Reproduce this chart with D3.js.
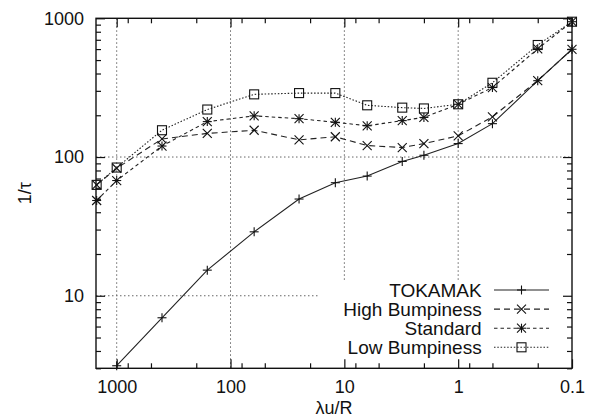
<!DOCTYPE html>
<html>
<head>
<meta charset="utf-8">
<script src="https://cdn.jsdelivr.net/npm/d3@7"></script>
<style>
  body { margin: 0; background: #fff; }
  svg { display: block; font-family: "Liberation Sans", Arial, sans-serif; }
  .axis path { stroke: #111; stroke-width: 1.3; }
  .axis line { stroke: #111; stroke-width: 1.2; }
  .axis text { font-size: 18px; fill: #111; }
</style>
</head>
<body>
<svg width="591" height="417"></svg>
<script>
// Data (x is λu/R, shared by every series)
const xValues = [1500, 1000, 400, 160, 62, 25, 12, 6.3, 3.1, 2, 1, 0.5, 0.2, 0.1];
const tokamak = [null, 3.13, 6.94, 15.3, 28.9, 49.8, 65.3, 72.9, 93, 103, 125, 174, 355, 598];
const highBumpiness = [63, 83, 135, 148, 156, 133, 140, 121, 117, 125, 142, 195, 355, 598];
const standard = [48.6, 67.7, 120, 180, 198, 189, 178, 168, 183, 193, 240, 317, 603, 945];
const lowBumpiness = [63, 84, 156, 220, 283, 289, 289, 236, 227, 224, 240, 343, 642, 945];

const seriesNames = ["TOKAMAK", "High Bumpiness", "Standard", "Low Bumpiness"];
const xMajorTicks = [1000, 100, 10, 1, 0.1];
const xMinorTicks = [800, 500, 200, 80, 50, 20, 8, 5, 2, 0.8, 0.5, 0.2];
const yMajorTicks = [1000, 100, 10];
const yMinorTicks = [3, 4, 5, 6, 7, 8, 9, 20, 30, 40, 50, 60, 70, 80, 90, 200, 300, 400, 500, 600, 700, 800, 900];

const margin = { top: 18.3, right: 19, bottom: 48.7, left: 96 };
const width = 591 - margin.left - margin.right;
const height = 417 - margin.top - margin.bottom;

const root = d3.select("svg");
const svg = root.append("g").attr("transform", `translate(${margin.left},${margin.top})`);

const x = d3.scaleLog().domain([1520, 0.1]).range([0, width]);
const y = d3.scaleLog().domain([3, 1000]).range([height, 0]);

// Grid at major ticks (dotted)
const grid = svg.append("g").attr("stroke", "#666").attr("stroke-width", 1).attr("stroke-dasharray", "1.5,2.5");
grid.selectAll(".gx").data(xMajorTicks.filter(d => d !== 0.1)).join("line")
    .attr("x1", d => x(d)).attr("x2", d => x(d)).attr("y1", 0).attr("y2", height);
grid.selectAll(".gy").data(yMajorTicks.filter(d => d !== 1000)).join("line")
    .attr("x1", 0).attr("x2", width).attr("y1", d => y(d)).attr("y2", d => y(d));

// Opaque key background hides the grid under the legend
svg.append("rect")
    .attr("x", 222).attr("y", 262.7)
    .attr("width", width - 222).attr("height", height - 262.7)
    .attr("fill", "#fff");

// Series
const series = [
    { name: seriesNames[0], values: tokamak, dash: null, marker: "plus" },
    { name: seriesNames[1], values: highBumpiness, dash: "6,4", marker: "cross" },
    { name: seriesNames[2], values: standard, dash: "3.5,3", marker: "star" },
    { name: seriesNames[3], values: lowBumpiness, dash: "1.5,1.8", marker: "square" }
];

const line = d3.line()
    .defined(d => d[1] != null)
    .x(d => x(d[0]))
    .y(d => y(d[1]));

function drawMarker(g, type, cx, cy) {
    const s = 4.5;
    const m = g.append("g").attr("transform", `translate(${cx},${cy})`)
        .attr("stroke", "#111").attr("stroke-width", 1.1).attr("fill", "none");
    if (type === "plus" || type === "star") {
        m.append("line").attr("x1", -s).attr("x2", s).attr("y1", 0).attr("y2", 0);
        m.append("line").attr("x1", 0).attr("x2", 0).attr("y1", -s).attr("y2", s);
    }
    if (type === "cross" || type === "star") {
        m.append("line").attr("x1", -s).attr("x2", s).attr("y1", -s).attr("y2", s);
        m.append("line").attr("x1", -s).attr("x2", s).attr("y1", s).attr("y2", -s);
    }
    if (type === "square") {
        m.append("rect").attr("x", -s).attr("y", -s).attr("width", 2 * s).attr("height", 2 * s);
    }
}

const plot = svg.append("g");
series.forEach(s => {
    const pts = xValues.map((xv, i) => [xv, s.values[i]]);
    plot.append("path")
        .datum(pts)
        .attr("fill", "none")
        .attr("stroke", "#222")
        .attr("stroke-width", 1.1)
        .attr("stroke-dasharray", s.dash)
        .attr("d", line);
    pts.filter(p => p[1] != null).forEach(p => drawMarker(plot, s.marker, x(p[0]), y(p[1])));
});

// Axes: gnuplot style ticks pointing inwards on all four sides
function styleAxis(g) {
    g.attr("class", "axis");
    g.select(".domain").remove();
}

const gx = svg.append("g").attr("transform", `translate(0,${height})`)
    .call(d3.axisBottom(x).tickValues(xMajorTicks).tickSize(-9).tickPadding(12)
        .tickFormat(d3.format("~g")));
styleAxis(gx);
svg.append("g").attr("transform", `translate(0,${height})`)
    .call(d3.axisBottom(x).tickValues(xMinorTicks).tickSize(-5).tickFormat(""))
    .call(styleAxis);
svg.append("g")
    .call(d3.axisTop(x).tickValues(xMajorTicks).tickSize(-9).tickFormat(""))
    .call(styleAxis);
svg.append("g")
    .call(d3.axisTop(x).tickValues(xMinorTicks).tickSize(-5).tickFormat(""))
    .call(styleAxis);

const gy = svg.append("g")
    .call(d3.axisLeft(y).tickValues(yMajorTicks).tickSize(-9).tickPadding(12)
        .tickFormat(d3.format("~g")));
styleAxis(gy);
svg.append("g")
    .call(d3.axisLeft(y).tickValues(yMinorTicks).tickSize(-5).tickFormat(""))
    .call(styleAxis);
svg.append("g").attr("transform", `translate(${width},0)`)
    .call(d3.axisRight(y).tickValues(yMajorTicks).tickSize(-9).tickFormat(""))
    .call(styleAxis);
svg.append("g").attr("transform", `translate(${width},0)`)
    .call(d3.axisRight(y).tickValues(yMinorTicks).tickSize(-5).tickFormat(""))
    .call(styleAxis);

// Frame
svg.append("rect")
    .attr("width", width).attr("height", height)
    .attr("fill", "none").attr("stroke", "#111").attr("stroke-width", 1.4);

// Axis labels
svg.append("text")
    .attr("x", width / 2)
    .attr("y", height + 45.5)
    .attr("text-anchor", "middle")
    .style("font-size", "18px")
    .attr("fill", "#111")
    .text("λu/R");

svg.append("text")
    .attr("transform", "rotate(-90)")
    .attr("x", -height / 2)
    .attr("y", -65)
    .attr("text-anchor", "middle")
    .style("font-size", "18px")
    .attr("fill", "#111")
    .text("1/τ");

// Legend
const legend = svg.append("g");
const legendTop = 271.7, legendStep = 19.1;
series.forEach((s, i) => {
    const ly = legendTop + i * legendStep;
    legend.append("text")
        .attr("x", 385.7)
        .attr("y", ly)
        .attr("dy", "0.36em")
        .attr("text-anchor", "end")
        .style("font-size", "19px")
        .attr("fill", "#111")
        .text(s.name);
    legend.append("line")
        .attr("x1", 398).attr("x2", 453)
        .attr("y1", ly).attr("y2", ly)
        .attr("stroke", "#222").attr("stroke-width", 1.1)
        .attr("stroke-dasharray", s.dash);
    drawMarker(legend, s.marker, 425.5, ly);
});
</script>
</body>
</html>
